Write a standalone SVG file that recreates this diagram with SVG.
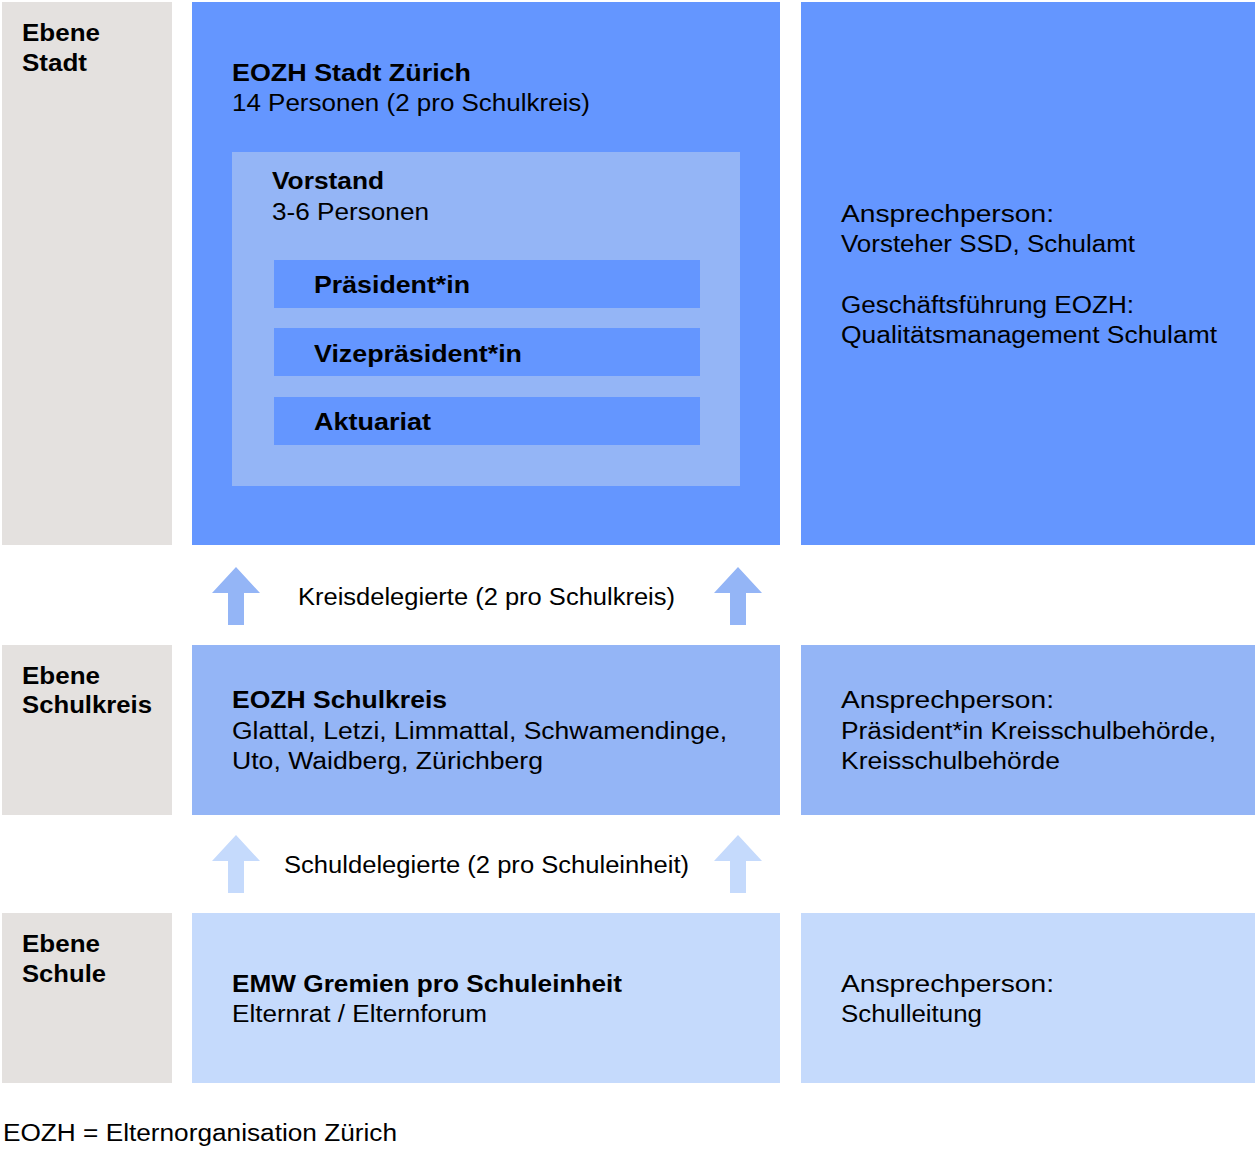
<svg xmlns="http://www.w3.org/2000/svg" width="1260" height="1152" viewBox="0 0 1260 1152">
<defs>
<style>
text{font-family:"Liberation Sans",Arial,sans-serif;font-size:23.5px;fill:#000}
.b{font-weight:bold}
.gray{fill:#e4e1df}
.c1{fill:#6496ff}
.c2{fill:#94b5f6}
.c3{fill:#c5dafc}
</style>
<path id="arrow" d="M0,0 L24,26 L8,26 L8,58 L-8,58 L-8,26 L-24,26 Z"/>
</defs>
<rect width="1260" height="1152" fill="#fff"/>
<g id="level-stadt">
<rect class="gray" x="2" y="2" width="170" height="543"/>
<text class="b" x="22" y="41" textLength="78" lengthAdjust="spacingAndGlyphs">Ebene</text>
<text class="b" x="22" y="71" textLength="65" lengthAdjust="spacingAndGlyphs">Stadt</text>
</g>
<g id="eozh-stadt">
<rect class="c1" x="192" y="2" width="588" height="543"/>
<text class="b" x="232" y="81" textLength="239" lengthAdjust="spacingAndGlyphs">EOZH Stadt Zürich</text>
<text x="232" y="111" textLength="358" lengthAdjust="spacingAndGlyphs">14 Personen (2 pro Schulkreis)</text>
</g>
<g id="vorstand">
<rect class="c2" x="232" y="152" width="508" height="334"/>
<text class="b" x="272" y="189" textLength="112" lengthAdjust="spacingAndGlyphs">Vorstand</text>
<text x="272" y="220" textLength="157" lengthAdjust="spacingAndGlyphs">3-6 Personen</text>
</g>
<g id="praesident">
<rect class="c1" x="274" y="260" width="426" height="48"/>
<text class="b" x="314" y="293" textLength="156" lengthAdjust="spacingAndGlyphs">Präsident*in</text>
</g>
<g id="vizepraesident">
<rect class="c1" x="274" y="328" width="426" height="48"/>
<text class="b" x="314" y="362" textLength="208" lengthAdjust="spacingAndGlyphs">Vizepräsident*in</text>
</g>
<g id="aktuariat">
<rect class="c1" x="274" y="397" width="426" height="48"/>
<text class="b" x="314" y="430" textLength="117" lengthAdjust="spacingAndGlyphs">Aktuariat</text>
</g>
<g id="kontakt-stadt">
<rect class="c1" x="801" y="2" width="454" height="543"/>
<text x="841" y="222" textLength="213" lengthAdjust="spacingAndGlyphs">Ansprechperson:</text>
<text x="841" y="252" textLength="294" lengthAdjust="spacingAndGlyphs">Vorsteher SSD, Schulamt</text>
<text x="841" y="313" textLength="293" lengthAdjust="spacingAndGlyphs">Geschäftsführung EOZH:</text>
<text x="841" y="343" textLength="376" lengthAdjust="spacingAndGlyphs">Qualitätsmanagement Schulamt</text>
</g>
<g id="level-schulkreis">
<rect class="gray" x="2" y="645" width="170" height="170"/>
<text class="b" x="22" y="684" textLength="78" lengthAdjust="spacingAndGlyphs">Ebene</text>
<text class="b" x="22" y="713" textLength="130" lengthAdjust="spacingAndGlyphs">Schulkreis</text>
</g>
<g id="eozh-schulkreis">
<rect class="c2" x="192" y="645" width="588" height="170"/>
<text class="b" x="232" y="708" textLength="215" lengthAdjust="spacingAndGlyphs">EOZH Schulkreis</text>
<text x="232" y="739" textLength="495" lengthAdjust="spacingAndGlyphs">Glattal, Letzi, Limmattal, Schwamendinge,</text>
<text x="232" y="769" textLength="311" lengthAdjust="spacingAndGlyphs">Uto, Waidberg, Zürichberg</text>
</g>
<g id="kontakt-schulkreis">
<rect class="c2" x="801" y="645" width="454" height="170"/>
<text x="841" y="708" textLength="213" lengthAdjust="spacingAndGlyphs">Ansprechperson:</text>
<text x="841" y="739" textLength="375" lengthAdjust="spacingAndGlyphs">Präsident*in Kreisschulbehörde,</text>
<text x="841" y="769" textLength="219" lengthAdjust="spacingAndGlyphs">Kreisschulbehörde</text>
</g>
<g id="level-schule">
<rect class="gray" x="2" y="913" width="170" height="170"/>
<text class="b" x="22" y="952" textLength="78" lengthAdjust="spacingAndGlyphs">Ebene</text>
<text class="b" x="22" y="982" textLength="84" lengthAdjust="spacingAndGlyphs">Schule</text>
</g>
<g id="emw-gremien">
<rect class="c3" x="192" y="913" width="588" height="170"/>
<text class="b" x="232" y="992" textLength="390" lengthAdjust="spacingAndGlyphs">EMW Gremien pro Schuleinheit</text>
<text x="232" y="1022" textLength="255" lengthAdjust="spacingAndGlyphs">Elternrat / Elternforum</text>
</g>
<g id="kontakt-schule">
<rect class="c3" x="801" y="913" width="454" height="170"/>
<text x="841" y="992" textLength="213" lengthAdjust="spacingAndGlyphs">Ansprechperson:</text>
<text x="841" y="1022" textLength="141" lengthAdjust="spacingAndGlyphs">Schulleitung</text>
</g>
<g id="connectors">
<use href="#arrow" class="c2" x="236" y="567"/>
<use href="#arrow" class="c2" x="738" y="567"/>
<text x="298" y="605" textLength="377" lengthAdjust="spacingAndGlyphs">Kreisdelegierte (2 pro Schulkreis)</text>
<use href="#arrow" class="c3" x="236" y="835"/>
<use href="#arrow" class="c3" x="738" y="835"/>
<text x="284" y="873" textLength="405" lengthAdjust="spacingAndGlyphs">Schuldelegierte (2 pro Schuleinheit)</text>
</g>
<text x="3" y="1141" textLength="394" lengthAdjust="spacingAndGlyphs">EOZH = Elternorganisation Zürich</text>
</svg>
